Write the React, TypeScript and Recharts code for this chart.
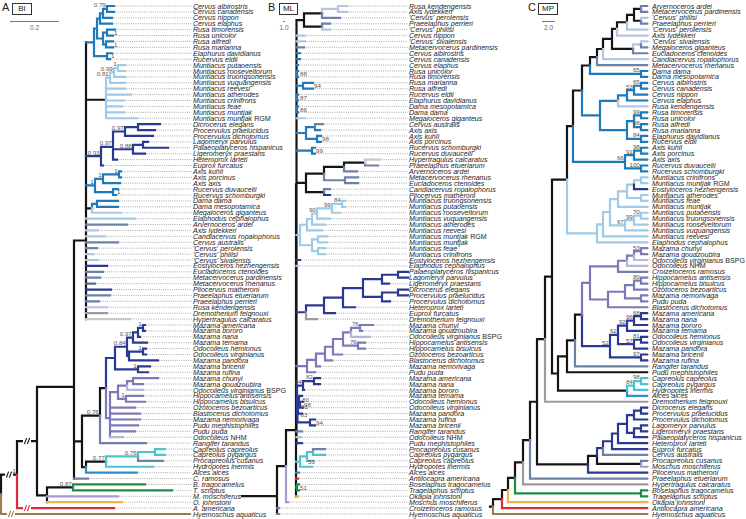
import React from 'react';
import { ComposedChart, Line, Scatter, XAxis, YAxis } from 'recharts';

const W = 746;
const H = 519;
const ROW0 = 6;
const ROW_STEP = 5.907;
const Y_MIN = -ROW0 / ROW_STEP;
const Y_MAX = Y_MIN + H / ROW_STEP;
const FONT = "'Liberation Sans', Arial, sans-serif";

const COLORS: Record<string, string> = {
  k: '#141414', b: '#2079b8', l: '#9fcbea', n: '#2b3990', s: '#6f80a8', d: '#56648c',
  p: '#b4c6e0', g: '#9b9b9b', h: '#c8c8c8', v: '#7d79b8', w: '#b7b6dd', c: '#4ec3cc',
  a: '#2b8fd3', G: '#1e8c48', o: '#f3b443', r: '#d92b3a', B: '#a27b52', m: '#a69ad0',
};

// Trees: (children)support@colour^stemColour~break:depth ; ">" = support printed right of node
// ---- A: Bayesian inference
const A_CERVINI = "(((((Cervus albirostris:114,Cervus canadensis:114)0.79:107,Cervus nippon:112):103,Cervus elaphus:112):100,((Rusa timorensis:115,Rusa unicolor:113)>1:107,(Rusa alfredi:113,Rusa marianna:113)>1:106):103):97,(Elaphurus davidianus:112,Rucervus eldii:110)>1:107)@b:94";
const A_MUNTIACUS = "((((Muntiacus putaoensis:125,Muntiacus rooseveltorum:125)1:118,Muntiacus truongsonensis:125)0.99:114,Muntiacus vuquangensis:125)0.81:110,Muntiacus reevesi:125,Muntiacus atherodes:131,Muntiacus crinifrons:124,Muntiacus feae:122,Muntiacus muntjak:124,Muntiacus muntjak RGM:137)@l^k:106";
const A_DICRO = "((((Dicrocerus elegans:160,Procervulus praelucidus:155):138,Procervulus dichotomus:153)0.97:125,((Lagomeryx parvulus:148,Palaeoplatyceros hispanicus:168):143,Ligeromeryx praestans:145)0.88:133,Heteroprox larteti:117)0.97:113,Euprox furcatus:103)0.93@n:101";
const A_AXIS = "(((Axis kuhli:121,Axis porcinus:121)1:119,Axis axis:120)1:103,(Rucervus duvaucelii:118,Rucervus schomburgki:116)>1:113)1@b:95";
const A_DAMA = "((Dama dama:118,Dama mesopotamica:118):97,Megaloceros giganteus@p:121)@b^k:92";
const A_FOSSILS = "Elaphodus cephalophus@l:135,Arvernoceros ardei@s:127,Axis lydekkeri@p:98,Candiacervus ropalophorus@p:105,Cervus australis@s:118,'Cervus' perolensis@s:97,'Cervus' philisi@p:93,'Cervus' sivalensis@p:98,Eostyloceros hezhengensis@n:107,Eucladoceros ctenoides@s:103,Metacervocerus pardinensis@s:100,Metacervocerus rhenanus@d:95,Pliocervus matheroni@n:111,Praeelaphus etueriarum@s:110,Praeelaphus perrieri@s:99,Rusa kendengensis@p:107,Dremotherium feignouxi@g:107,Hypertragulus calcaratus@h:130";
const A_CERVINAE = `(${A_CERVINI},${A_MUNTIACUS},${A_DICRO},${A_AXIS},${A_DAMA},${A_FOSSILS})@k:86`;
const A_NAVY = "(((((Mazama americana:145,Mazama bororo:145)1:143,Mazama nana:140):138,Mazama temama:147)0.97:133,((Odocoileus hemionus:146,Odocoileus virginianus:146)1:143,Mazama pandora:158):129)0.84:127,(Mazama bricenii:150,Mazama rufina:148)1:138)@n:115";
const A_LAV = "((((Mazama chunyi:158,Mazama gouazoubira:143):133,Odocoileus virginianus BSPG@w:143):127,(Hippocamelus antisensis:143,Hippocamelus bisulcus:145)1:126):118,Ozotoceros bezoarticus:135,Blastocerus dichotomus:140,Mazama nemorivaga:140,Pudu mephistophiles:138,Pudu puda:135,Odocoileus NHM@w:123)@v:110";
const A_ODO = `((${A_NAVY},${A_LAV})@k:106,Rangifer tarandus@s:146)0.76@k:100`;
const A_CAPREOLINI = "(((Capreolus capreolus:165,Capreolus pygargus:165):155,Procapreolus cusanus@s:163)0.76:138,Hydropotes inermis:153)0.77@c^k:106";
const A_CAPREOLINAE = `(${A_ODO},(${A_CAPREOLINI},Alces alces@a:137)@k:86)@k:82`;
const A_CERVIDAE = `(${A_CERVINAE},${A_CAPREOLINAE},C. ramosus@s:88)@k:74`;
const A_OUTGROUP = "((B. tragocamelus:145,T. scriptus:172)0.87@G^k:73,M. moschiferus@m:118,O. johnstoni@o:122)@k:47";
const A_TREE = `(((${A_CERVIDAE},${A_OUTGROUP})@k~:37,A. americana@r~:114)1@k~:17,Hyemoschus aquaticus@B~:190)@k:1`;

// ---- B: maximum likelihood
const B_TOP = "((((Rusa kendengensis@p:102,Axis lydekkeri@p:102)@p:93,'Cervus' perolensis@s:95)@k:77,(Praeelaphus perrieri@s:85,'Cervus' philisi@p:85)@k:77)@k:59";
const B_CERVINI = "Cervus nippon@p:60,'Cervus' sivalensis@p:60,Metacervocerus pardinensis@s:59,Cervus albirostris@b:55,Cervus canadensis@b:55,Cervus elaphus@b:53,(Rusa unicolor:53,Rusa timorensis:53)>88@b:52,(Rusa marianna:68,Rusa alfredi:68)>94@b:58,(Rucervus eldii:53,Elaphurus davidianus:53)>87@b:52,(Dama mesopotamica:53,Dama dama:53)>86@b:52,Megaloceros giganteus@p:60";
const B_AXIS = "((Cervus australis@s:78,Axis axis:75):70,(Axis kuhli:76,Axis porcinus:76)>98:72)@b:61,(Rucervus schomburgki:70,Rucervus duvaucelii:70)>99@b:67";
const B_FOSSILS = "((((Hypertragulus calcaratus@h:135,Praeelaphus etueriarum@s:133)@k:120,Arvernoceros ardei@s:112)@k:99,(Metacervocerus rhenanus@s:113,Eucladoceros ctenoides@s:113)@s:100)@k:79,(Candiacervus ropalophorus@s:85,Pliocervus matheroni@n:85)@k:79)@k:61";
const B_MUNTIACUS = "((((((Muntiacus truongsonensis:100,Muntiacus putaoensis:100)84:97,Muntiacus rooseveltorum:95)99:87,Muntiacus vuquangensis:85)90:72,Muntiacus atherodes:80):67,Muntiacus reevesi:77):62,((Muntiacus muntjak RGM:82,Muntiacus muntjak:82):73,(Muntiacus feae:80,Muntiacus crinifrons:80):73):67)@l:55,Eostyloceros hezhengensis@n:55,Elaphodus cephalophus@p:53";
const B_DICRO = "((((((Palaeoplatyceros hispanicus:163,Lagomeryx parvulus:163):153,Ligeromeryx praestans:144):137,((Dicrocerus elegans:163,Procervulus praelucidus:163):153,Procervulus dichotomus:145):137):118,Heteroprox larteti:110):98,Euprox furcatus:90)@n:79,Dremotherium feignouxi@g:72)@n:61";
const B_LAV = "(((((((Mazama chunyi:128,Mazama gouazoubira:117)76:115,Odocoileus virginianus BSPG@w:125):106,(Hippocamelus antisensis:120,Hippocamelus bisulcus:120)76:113):98,Ozotoceros bezoarticus:97):88,Blastocerus dichotomus:87):80,Mazama nemorivaga:75):71,Pudu puda:70)@v:62";
const B_NAVY = "(((Mazama americana:75,Mazama nana:75)82:69,Mazama bororo:59)94:58,(((Mazama temama:57,(Odocoileus hemionus:58,Odocoileus virginianus:58)>98:55)>80:54,Mazama pandora:57)>91:53,(Mazama rufina:70,Mazama bricenii:70)>94:65)>83:52.5)@n:52";
const B_CORE_TAIL = "Rangifer tarandus@s:57,Odocoileus NHM@w:56,Pudu mephistophiles@n:57";
const B_OUTER = "(((Procapreolus cusanus@s:80,Capreolus pygargus:80):68,Capreolus capreolus:68):62,Hydropotes inermis:67)>53@c:55,Alces alces@a:54,Antilocapra americana@r:53,(Boselaphus tragocamelus:54,Tragelaphus scriptus:54)>51@G:52,Okapia johnstoni@o:53";
const B_TREE = `((((${B_TOP},${B_CERVINI},${B_AXIS},${B_FOSSILS},${B_MUNTIACUS},${B_DICRO},${B_LAV},${B_NAVY},${B_CORE_TAIL})@k:51.5,${B_OUTER})@k:51,Moschus moschiferus@m:43)@k:41,Croizetoceros ramosus@s:34,Hyemoschus aquaticus@B:34)@k:32`;

// ---- C: maximum parsimony
const C_UPPER = "((((((((Arvernoceros ardei@s:157,Metacervocerus pardinensis@s:157):151,('Cervus' philisi@p:157,Praeelaphus perrieri@s:157):151):144,'Cervus' perolensis@p:157):137,Axis lydekkeri@p:157):127,(('Cervus' sivalensis@p:157,Megaloceros giganteus@s:157)@p:151,Eucladoceros ctenoides@s:157):143):122,Candiacervus ropalophorus@p:157):113,Metacervocerus rhenanus@s:157):107,(Dama dama:157,Dama mesopotamica:157)65@b:151):100";
const C_CERVUS_RUSA = "(((((Cervus albirostris:157,Cervus canadensis:157)65:151,Cervus nippon:157)53:144,Cervus elaphus:157):137,Rusa kendengensis@p:157):128,(((Rusa timorensis:157,Rusa unicolor:157)99:151,(Rusa alfredi:157,Rusa marianna:157)98:151):144,(Elaphurus davidianus:157,Rucervus eldii:157)84:151):137)@b:110";
const C_AXIS = "(((Axis kuhli:157,Axis porcinus:157)98:151,Axis axis:157)91:144,(Rucervus duvaucelii:157,Rucervus schomburgki:157)100:151)66@b:135";
const C_MUNTI = "(((((((Muntiacus crinifrons:157,Muntiacus muntjak RGM:157):151,Eostyloceros hezhengensis@n:157):144,(Muntiacus atherodes:157,Muntiacus feae:157):151):137,Muntiacus muntjak:157):128,(((Muntiacus putaoensis:157,Muntiacus truongsonensis:157)70:151,Muntiacus rooseveltorum:157)99:144,Muntiacus vuquangensis:157)67:135):120,Muntiacus reevesi:157):113,Elaphodus cephalophus:157)@l:107";
const C_CERVINAE = `(((${C_UPPER},${C_CERVUS_RUSA})@k:92,${C_AXIS})@k:83,${C_MUNTI})@k:77`;
const C_LAV = "(((((Mazama chunyi:157,Mazama gouazoubira:157)53:151,Odocoileus virginianus BSPG@w:157):144,Odocoileus NHM@w:157):137,Croizetoceros ramosus@s:157):128,((((Hippocamelus antisensis:157,Hippocamelus bisulcus:157)80:151,Ozotoceros bezoarticus:157):144,(Mazama nemorivaga:157,Pudu puda:157):151):135,Blastocerus dichotomus:157):118)@v:100";
const C_NAVY = "(((((Mazama americana:157,Mazama nana:157)68:151,Mazama bororo:157)96:144,Mazama temama:157)92:137,((Odocoileus hemionus:157,Odocoileus virginianus:157)81:151,Mazama pandora:157)57:144)62:128,(Mazama bricenii:157,Mazama rufina:157)97:151)52@n:120";
const C_CAPREOLINAE = `((((${C_LAV},${C_NAVY})@k:92,Rangifer tarandus@s:157)@k:85,Pudu mephistophiles@k:157)@k:77,(((Capreolus capreolus:157,Capreolus pygargus:157)98:151,Hydropotes inermis:157)84@c:144,Alces alces@a:157)@k:137)@k:68`;
const C_DICRO = "((((((((Dicrocerus elegans:157,Procervulus praelucidus:157):151,Procervulus dichotomus:157):144,((Lagomeryx parvulus:157,Ligeromeryx praestans:157):151,Palaeoplatyceros hispanicus:157):144):137,Heteroprox larteti:157):128,Euprox furcatus:157):122,Cervus australis@s:157)@n:113,(Procapreolus cusanus@s:157,Moschus moschiferus@m:157)@k:151)@k:107,Pliocervus matheroni@n:157)@k:98";
const C_TREE = `(((((((((${C_CERVINAE},${C_CAPREOLINAE})@k:62,Dremotherium feignouxi@g:157)@k:55,${C_DICRO})@k:47,Praeelaphus etueriarum@s:157)@k:40,Hypertragulus calcaratus@g:157)@k:33,(Boselaphus tragocamelus:157,Tragelaphus scriptus:157)@G:151)@k:25,Okapia johnstoni@o:157)@k:18,Antilocapra americana@r:157)@k:12,Hyemoschus aquaticus@B:157)@k:3`;

const PANELS = [
  { tree: A_TREE, x0: 0, labelX: 193 },
  { tree: B_TREE, x0: 245, labelX: 409 },
  { tree: C_TREE, x0: 490, labelX: 652 },
];

type TNode = {
  name?: string; label?: string; right?: boolean; color?: string; stem?: string; brk?: boolean;
  depth: number; children: TNode[]; y: number; col: string; stemCol: string;
};

function parseTree(s: string): TNode {
  let i = 0;
  const stop = '@^~:,()';
  const node = (): TNode => {
    const n: TNode = { children: [], depth: 0, y: 0, col: 'k', stemCol: 'k' };
    if (s[i] === '(') {
      i++;
      n.children.push(node());
      while (s[i] === ',') { i++; n.children.push(node()); }
      i++;
    }
    let txt = '';
    while (i < s.length && !stop.includes(s[i])) txt += s[i++];
    while (s[i] === '@' || s[i] === '^' || s[i] === '~') {
      const c = s[i++];
      if (c === '~') n.brk = true;
      else if (c === '@') n.color = s[i++];
      else n.stem = s[i++];
    }
    if (s[i] === ':') {
      i++;
      let num = '';
      while (i < s.length && !',)'.includes(s[i])) num += s[i++];
      n.depth = parseFloat(num);
    }
    txt = txt.trim();
    if (n.children.length) {
      if (txt) { n.right = txt.startsWith('>'); n.label = txt.replace('>', ''); }
    } else n.name = txt;
    return n;
  };
  return node();
}

type Pt = { x: number; y: number | null };
type Group = { stroke: string; width: number; dash?: string; layer: number; pts: Pt[] };
const groups = new Map<string, Group>();
const seg = (stroke: string, width: number, layer: number, x1: number, y1: number, x2: number, y2: number, dash?: string) => {
  const key = `${stroke}|${width}|${dash ?? ''}`;
  let g = groups.get(key);
  if (!g) { g = { stroke, width, dash, layer, pts: [] }; groups.set(key, g); }
  g.pts.push({ x: x1, y: y1 }, { x: x2, y: y2 }, { x: x2, y: null });
};

const tipPts: { x: number; y: number; name: string }[] = [];
const supportPts: { x: number; y: number; text: string; right: boolean }[] = [];
const BW = 2.2;

PANELS.forEach(({ tree, x0, labelX }) => {
  const root = parseTree(tree);
  let row = 0;
  const place = (n: TNode, parent?: TNode) => {
    n.col = n.color ?? parent?.col ?? 'k';
    n.stemCol = n.stem ?? n.col;
    if (!n.children.length) { n.y = row++; return; }
    n.children.forEach((c) => place(c, n));
    n.y = n.children.reduce((a, c) => a + c.y, 0) / n.children.length;
  };
  place(root);

  const draw = (n: TNode, parent?: TNode) => {
    const x = x0 + n.depth;
    const px = parent ? x0 + parent.depth : x - 3;
    seg(COLORS[n.stemCol], BW, 1, px, n.y, x, n.y);
    if (n.brk && parent) {
      const bx = px + Math.min(10, (x - px) / 2);
      seg('#ffffff', 4, 2, bx - 2, n.y, bx + 2, n.y);
      seg(COLORS[n.stemCol], 1.1, 3, bx - 2.4, n.y + 0.42, bx - 0.6, n.y - 0.42);
      seg(COLORS[n.stemCol], 1.1, 3, bx + 0.6, n.y + 0.42, bx + 2.4, n.y - 0.42);
    }
    if (!n.children.length) {
      tipPts.push({ x: labelX, y: n.y, name: n.name ?? '' });
      if (labelX - x > 4) seg('#7a7a7a', 0.7, 0, x + 1.5, n.y, labelX - 1.5, n.y, '0.9 1.3');
      return;
    }
    if (n.children.length === 2) {
      n.children.forEach((c) => seg(COLORS[c.stemCol], BW, 1, x, n.y, x, c.y));
    } else {
      const ys = n.children.map((c) => c.y);
      seg(COLORS[n.col], BW, 1, x, Math.min(...ys), x, Math.max(...ys));
    }
    if (n.label) {
      const minChild = Math.min(...n.children.map((c) => c.depth));
      supportPts.push(n.right
        ? { x: x0 + Math.max(n.depth + 3, minChild + 1), y: n.y, text: n.label, right: true }
        : { x: x - 1.2, y: n.y, text: n.label, right: false });
    }
    n.children.forEach((c) => draw(c, n));
  };
  draw(root);
});

const lineGroups = [...groups.values()].sort((a, b) => a.layer - b.layer);

const renderTip = (p: any) => {
  const words: string[] = String(p.payload?.name ?? '').split(' ');
  return (
    <text x={p.cx} y={p.cy} dy="0.36em" fontSize={7.1} fontFamily={FONT} fill="#1e1e1e">
      {words.map((w, i) => (
        <tspan key={i} fontStyle={/^[A-Z]{3,}$/.test(w) ? 'normal' : 'italic'}>{(i ? ' ' : '') + w}</tspan>
      ))}
    </text>
  );
};

const renderSupport = (p: any) => {
  const right = p.payload?.right;
  return (
    <text x={p.cx} y={p.cy} dy={right ? '0.35em' : -1.6} textAnchor={right ? 'start' : 'end'}
      fontSize={6.2} fontFamily={FONT} fill="#555">
      {p.payload?.text}
    </text>
  );
};

const HEADERS = [
  { letter: 'A', lx: 2, box: 'BI', bx: 12, bw: 18, bar: [10, 49], scale: '0.2' },
  { letter: 'B', lx: 268, box: 'ML', bx: 279, bw: 17, bar: [283, 2], scale: '1.0' },
  { letter: 'C', lx: 528, box: 'MP', bx: 538, bw: 18, bar: [542, 13], scale: '2.0' },
];

export default function App() {
  return (
    <div style={{ position: 'relative', width: W, height: H, background: '#fff', fontFamily: FONT }}>
      <style>{'body{margin:0}'}</style>
      <ComposedChart width={W} height={H} margin={{ top: 0, right: 0, bottom: 0, left: 0 }}>
        <XAxis type="number" dataKey="x" domain={[0, W]} hide allowDataOverflow />
        <YAxis type="number" dataKey="y" domain={[Y_MIN, Y_MAX]} reversed hide allowDataOverflow />
        {lineGroups.map((g, i) => (
          <Line key={i} data={g.pts} dataKey="y" type="linear" stroke={g.stroke} strokeWidth={g.width}
            strokeDasharray={g.dash} strokeLinecap={g.dash ? 'butt' : 'square'} dot={false}
            activeDot={false} connectNulls={false} isAnimationActive={false} />
        ))}
        <Scatter data={tipPts} shape={renderTip} isAnimationActive={false} />
        <Scatter data={supportPts} shape={renderSupport} isAnimationActive={false} />
      </ComposedChart>
      {HEADERS.map((h) => (
        <React.Fragment key={h.letter}>
          <div style={{ position: 'absolute', left: h.lx, top: 1, fontSize: 11, color: '#222' }}>{h.letter}</div>
          <div style={{ position: 'absolute', left: h.bx, top: 3, width: h.bw, height: 10, border: '1px solid #333',
            fontSize: 8, lineHeight: '10px', textAlign: 'center', color: '#222' }}>{h.box}</div>
          <div style={{ position: 'absolute', left: h.bar[0], top: 21, width: h.bar[1], height: 0, borderTop: '1px solid #777' }} />
          <div style={{ position: 'absolute', left: h.bar[0] + h.bar[1] / 2 - 10, width: 20, top: 24, fontSize: 6.5,
            textAlign: 'center', color: '#666' }}>{h.scale}</div>
        </React.Fragment>
      ))}
    </div>
  );
}
